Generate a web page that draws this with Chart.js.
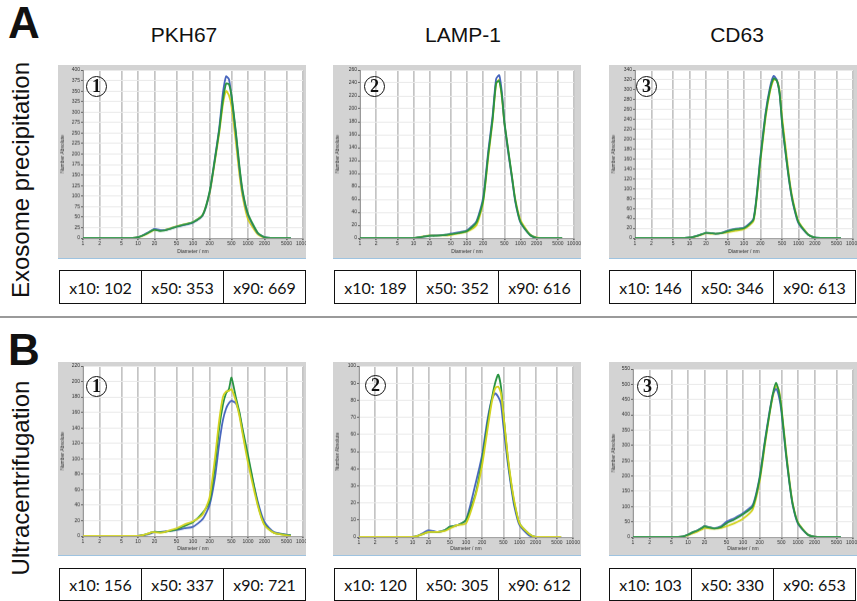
<!DOCTYPE html>
<html>
<head>
<meta charset="utf-8">
<script src="https://cdn.jsdelivr.net/npm/chart.js@4.4.0/dist/chart.umd.min.js"></script>
<style>
  body { margin: 0; width: 857px; height: 601px; background: #fff; position: relative; overflow: hidden;
         font-family: "Liberation Sans", Arial, sans-serif; color: #111; }
  .abs { position: absolute; line-height: 1; white-space: nowrap; }
  .letter { font-weight: bold; font-size: 44px; }
  .col { font-size: 21px; width: 160px; text-align: center; }
  .row { font-size: 24px; width: 280px; height: 28px; text-align: center; transform: rotate(-90deg); }
  canvas.panel { position: absolute; background: #d3d3d3; border-bottom: 1px solid #9ec3e0; }
  .circ { position: absolute; width: 19px; height: 19px; border: 1.6px solid #111; border-radius: 50%;
          font-family: "Liberation Serif", serif; font-size: 18px; font-weight: bold; line-height: 19px; text-align: center; }
  .box { position: absolute; display: flex; border: 1.5px solid #111; box-sizing: border-box;
         font-family: Lato, sans-serif; font-size: 16px; }
  .box div { flex: 1; display: flex; align-items: center; justify-content: center; border-left: 1.5px solid #111; }
  .box div:first-child { border-left: none; }
  .sep { position: absolute; left: 0; width: 857px; height: 2px; background: #9a9a9a; }
</style>
</head>
<body>
<script>
// DATA
const diameters = [1, 5, 8, 10, 12, 15, 18, 20, 25, 30, 40, 50, 70, 100, 150, 200, 250, 300, 350, 400, 450, 500, 600, 700, 800, 1000, 1500, 2000, 3000, 6000];
const xTicks = [1, 2, 5, 10, 20, 50, 100, 200, 500, 1000, 2000, 5000, 10000];
const markers = ["PKH67", "LAMP-1", "CD63"];
const methods = ["Exosome precipitation", "Ultracentrifugation"];

// A - exosome precipitation
const a1Green  = [0,0,0,2,6,12,18,20,17,18,23,27,32,38,55,110,187,257,328,368,366,340,254,170,112,58,13,2,0,0];
const a1Blue   = [0,0,0,2,6,13,19,22,19,19,23,27,31,37,54,108,190,262,345,385,378,338,250,165,108,55,12,2,0,0];
const a1Yellow = [0,0,0,2,5,11,17,19,18,19,24,28,33,38,55,105,183,250,318,350,340,315,230,150,98,45,9,1,0,0];

const a2Green  = [0,0,0,0,1,2,3,3.5,3.5,4,5,6,8,11,24,58,130,183,240,243,220,180,132,92,58,25,5,0,0,0];
const a2Blue   = [0,0,0,0,1,2,3,3.5,4,4,5,7,9,12,26,62,135,188,246,252,224,178,128,90,56,24,5,0,0,0];
const a2Yellow = [0,0,0,0,1,2.5,3.5,4,4,4,4,5,7,10,20,55,125,180,238,245,216,177,130,93,60,28,6,1,0,0];

const a3Green  = [0,0,0,1,3,6,9,11,10,9,11,14,18,20,38,160,250,300,323,318,293,235,160,105,70,32,7,1,0,0];
const a3Blue   = [0,0,0,1,3,6,9,11,10,9,11,15,19,21,40,165,255,305,328,320,292,232,158,103,68,30,7,1,0,0];
const a3Yellow = [0,0,0,1,2,5,8,10,9,9,10,12,15,18,35,155,245,296,320,320,298,245,170,110,74,34,8,1,0,0];

// B - ultracentrifugation
const b1Green  = [0,0,0,0,1,3,5,5.5,5,5,7,8.5,13,18,30,45,90,140,170,185,190,205,180,160,138,105,42,15,4,1];
const b1Blue   = [0,0,0,0,1,2,4,5,5,6,7,8,10,12,22,40,75,120,150,165,172,175,172,158,135,100,45,18,5,1];
const b1Yellow = [0,0,0,0,1,3,5,5,4,5,8,10,15,19,28,50,100,150,180,187,188,190,175,155,132,95,40,14,4,0];

const b2Green  = [0,0,0,0,0.5,1.5,2.5,3,3,3,4,6,7,10,25,45,65,80,90,95,88,72,47,31,20,8,2,0,0,0];
const b2Blue   = [0,0,0,0,0.5,2,3.5,4,3.5,3,4,6,7,10,31,48,68,80,84,82,78,65,44,29,18,7,1,0,0,0];
const b2Yellow = [0,0,0,0,0.5,1.5,2.5,3,3,3,3.5,5,7,8,24,42,62,78,87,88,84,72,48,32,21,8,2,0,0,0];

const b3Green  = [0,0,2,8,15,22,30,35,31,28,33,45,58,75,100,190,310,400,470,505,475,420,280,178,108,46,8,1,0,0];
const b3Blue   = [0,0,2,8,15,23,31,36,32,29,36,50,62,78,105,195,315,405,468,485,460,410,275,175,105,44,8,1,0,0];
const b3Yellow = [0,0,1,6,12,18,25,30,28,27,30,35,45,60,90,180,300,395,460,495,482,425,290,185,112,48,9,1,0,0];

// x10 / x50 / x90 values per panel
const aStats = [[102, 353, 669], [189, 352, 616], [146, 346, 613]];
const bStats = [[156, 337, 721], [120, 305, 612], [103, 330, 653]];

const yMaxes = [400, 260, 340, 220, 100, 550];
const ySteps = [25, 20, 20, 20, 10, 50];

// LAYOUT
const COLORS = { green: "#2a9442", blue: "#4866bd", yellow: "#d3d320" };

const panels = [
  { frame: { x: 58,  y: 65,  w: 248, h: 194 }, plot: { left: 83,  top: 70,  right: 303, bottom: 239 },
    series: [a1Green, a1Blue, a1Yellow], circle: [97, 87] },
  { frame: { x: 333, y: 65,  w: 248, h: 194 }, plot: { left: 360, top: 70,  right: 574, bottom: 239 },
    series: [a2Green, a2Blue, a2Yellow], circle: [375, 87] },
  { frame: { x: 609, y: 65,  w: 248, h: 194 }, plot: { left: 635, top: 70,  right: 853, bottom: 239 },
    series: [a3Green, a3Blue, a3Yellow], circle: [647, 87] },
  { frame: { x: 58,  y: 362, w: 248, h: 194 }, plot: { left: 83,  top: 366, right: 303, bottom: 537 },
    series: [b1Yellow, b1Green, b1Blue], circle: [97, 387] },
  { frame: { x: 333, y: 362, w: 248, h: 194 }, plot: { left: 359, top: 366, right: 573, bottom: 538 },
    series: [b2Yellow, b2Green, b2Blue], circle: [376, 386] },
  { frame: { x: 609, y: 362, w: 248, h: 194 }, plot: { left: 633, top: 369, right: 853, bottom: 538 },
    series: [b3Green, b3Blue, b3Yellow], circle: [648, 387] }
];

function colorOf(arr) {
  if ([a1Green, a2Green, a3Green, b1Green, b2Green, b3Green].includes(arr)) return COLORS.green;
  if ([a1Blue, a2Blue, a3Blue, b1Blue, b2Blue, b3Blue].includes(arr)) return COLORS.blue;
  return COLORS.yellow;
}

function addText(cls, text, left, top, extra) {
  const d = document.createElement("div");
  d.className = "abs " + cls;
  d.textContent = text;
  d.style.left = left + "px";
  d.style.top = top + "px";
  if (extra) Object.assign(d.style, extra);
  document.body.appendChild(d);
  return d;
}

// whitening the plot area
const plotBg = {
  id: "plotBg",
  beforeDraw(chart) {
    const a = chart.chartArea, ctx = chart.ctx;
    ctx.save();
    ctx.fillStyle = "#ffffff";
    ctx.fillRect(a.left, a.top, a.right - a.left, a.bottom - a.top);
    ctx.restore();
  }
};

function makePanel(p, idx) {
  const f = p.frame, pl = p.plot;
  const cv = document.createElement("canvas");
  cv.className = "panel";
  cv.width = f.w; cv.height = f.h;
  cv.style.left = f.x + "px"; cv.style.top = f.y + "px";
  document.body.appendChild(cv);

  const yW = pl.left - f.x;
  const xH = f.y + f.h - pl.bottom;

  new Chart(cv, {
    type: "line",
    data: {
      datasets: p.series.map(vals => ({
        data: diameters.map((d, i) => ({ x: d, y: vals[i] })),
        borderColor: colorOf(vals),
        borderWidth: 1.8,
        pointRadius: 0,
        tension: 0.2,
        fill: false
      }))
    },
    options: {
      responsive: false,
      animation: false,
      devicePixelRatio: 1,
      layout: { padding: { left: 0, top: pl.top - f.y, right: f.x + f.w - pl.right, bottom: 0 } },
      plugins: { legend: { display: false }, tooltip: { enabled: false } },
      scales: {
        x: {
          type: "logarithmic",
          min: 1,
          max: 10000,
          afterBuildTicks: s => { s.ticks = xTicks.map(v => ({ value: v })); },
          afterFit: s => { s.height = xH; s.paddingLeft = 0; s.paddingRight = 0; },
          ticks: { autoSkip: false, maxRotation: 0, padding: 1, color: "#333",
                   font: { size: 5 }, callback: v => String(v) },
          grid: { color: "#c4c4c4", lineWidth: 1.7, tickLength: 2, tickColor: "#666" },
          border: { color: "#999" },
          title: { display: true, text: "Diameter / nm", color: "#333", font: { size: 5 },
                   padding: { top: 0, bottom: 3 } }
        },
        y: {
          min: 0,
          max: yMaxes[idx],
          afterFit: s => { s.width = yW; s.paddingTop = 0; s.paddingBottom = 0; },
          ticks: { stepSize: ySteps[idx], padding: 1, color: "#333", font: { size: 5 } },
          grid: { color: "#eaeaea", lineWidth: 1, tickLength: 2, tickColor: "#666" },
          border: { color: "#999" },
          title: { display: true, text: "Number Absolute", color: "#333", font: { size: 5 },
                   padding: { top: 2, bottom: 0 } }
        }
      }
    },
    plugins: [plotBg]
  });

  const c = document.createElement("div");
  c.className = "circ";
  c.textContent = String((idx % 3) + 1);
  c.style.left = (p.circle[0] - 11) + "px";
  c.style.top = (p.circle[1] - 11) + "px";
  document.body.appendChild(c);
}

function makeBox(stats, left, top, width, height) {
  const b = document.createElement("div");
  b.className = "box";
  Object.assign(b.style, { left: left + "px", top: top + "px", width: width + "px", height: height + "px" });
  ["x10", "x50", "x90"].forEach((k, i) => {
    const cell = document.createElement("div");
    cell.textContent = k + ": " + stats[i];
    b.appendChild(cell);
  });
  document.body.appendChild(b);
}

// HEADINGS
addText("letter", "A", 8, 1);
addText("letter", "B", 8, 328);
[184, 463, 737].forEach((cx, i) => addText("col", markers[i], cx - 80, 24));
addText("row", methods[0], 23 - 140, 180 - 14);
addText("row", methods[1], 23 - 140, 478 - 14);

const sep = document.createElement("div");
sep.className = "sep";
sep.style.top = "316px";
document.body.appendChild(sep);

panels.forEach(makePanel);

makeBox(aStats[0], 59, 270, 247, 34);
makeBox(aStats[1], 334, 270, 247, 34);
makeBox(aStats[2], 609, 270, 247, 34);
makeBox(bStats[0], 59, 568, 247, 33);
makeBox(bStats[1], 334, 568, 247, 33);
makeBox(bStats[2], 609, 568, 247, 33);
</script>
</body>
</html>
